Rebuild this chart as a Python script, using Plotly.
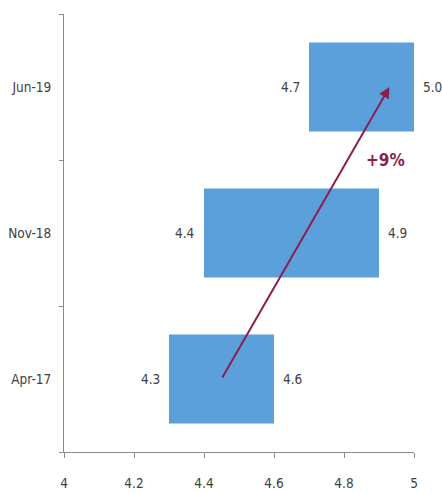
import plotly.graph_objects as go

categories = ["Apr-17", "Nov-18", "Jun-19"]
start_vals = [4.3, 4.4, 4.7]
end_vals = [4.6, 4.9, 5.0]
start_labels = ["4.3", "4.4", "4.7"]
end_labels = ["4.6", "4.9", "5.0"]
x_ticks = [4, 4.2, 4.4, 4.6, 4.8, 5]
x_tick_labels = ["4", "4.2", "4.4", "4.6", "4.8", "5"]
arrow_start = (4.45, 0)
arrow_end = (4.93, 2.0)
change_label = "+9%"

FONT = "DejaVu Sans Condensed, Liberation Sans Narrow, sans-serif"
TXT = "#404040"
BAR = "#5BA0DB"
ARROW = "#8A1F50"

fig = go.Figure()
fig.add_trace(go.Bar(
    y=categories,
    x=[e - s for s, e in zip(start_vals, end_vals)],
    base=start_vals,
    orientation="h",
    width=0.61,
    marker=dict(color=BAR, line=dict(width=0)),
    hoverinfo="skip",
))

for c, s, lab in zip(categories, start_vals, start_labels):
    fig.add_annotation(x=s, y=c, xref="x", yref="y", text=lab, showarrow=False,
                       xanchor="right", xshift=-7,
                       font=dict(family=FONT, size=13.5, color=TXT))
for c, e, lab in zip(categories, end_vals, end_labels):
    fig.add_annotation(x=e, y=c, xref="x", yref="y", text=lab, showarrow=False,
                       xanchor="left", xshift=7,
                       font=dict(family=FONT, size=13.5, color=TXT))

fig.add_annotation(
    x=arrow_end[0], y=arrow_end[1], ax=arrow_start[0], ay=arrow_start[1],
    xref="x", yref="y", axref="x", ayref="y",
    showarrow=True, arrowhead=2, arrowsize=1.1, arrowwidth=2, arrowcolor=ARROW,
    text="",
)
fig.add_annotation(
    x=4.918, y=1.5, xref="x", yref="y", text="<b>" + change_label + "</b>",
    showarrow=False, font=dict(family=FONT, size=17, color=ARROW),
)

fig.update_layout(
    width=442, height=493,
    margin=dict(l=64, r=28, t=14, b=41),
    paper_bgcolor="white", plot_bgcolor="white",
    showlegend=False,
    font=dict(family=FONT, size=13, color=TXT),
)
fig.update_xaxes(
    range=[4, 5], tickvals=x_ticks, ticktext=x_tick_labels, automargin=False,
    showgrid=False, zeroline=False, showline=True, linecolor="#8c8c8c", linewidth=1,
    ticks="outside", ticklen=5, tickcolor="#8c8c8c",
    tickfont=dict(family=FONT, size=13.5, color=TXT), ticklabelstandoff=14,
)
fig.update_yaxes(
    type="category", categoryorder="array", categoryarray=categories,
    range=[-0.5, 2.5], tickson="boundaries", automargin=False,
    showgrid=False, zeroline=False, showline=True, linecolor="#8c8c8c", linewidth=1,
    ticks="outside", ticklen=4, tickcolor="#8c8c8c",
    tickfont=dict(family=FONT, size=13.5, color=TXT), ticklabelstandoff=9,
)

fig.write_html(
    "out.html",
    config={"displayModeBar": False},
    post_script="document.body.style.margin='0';document.body.style.overflow='hidden';",
)
